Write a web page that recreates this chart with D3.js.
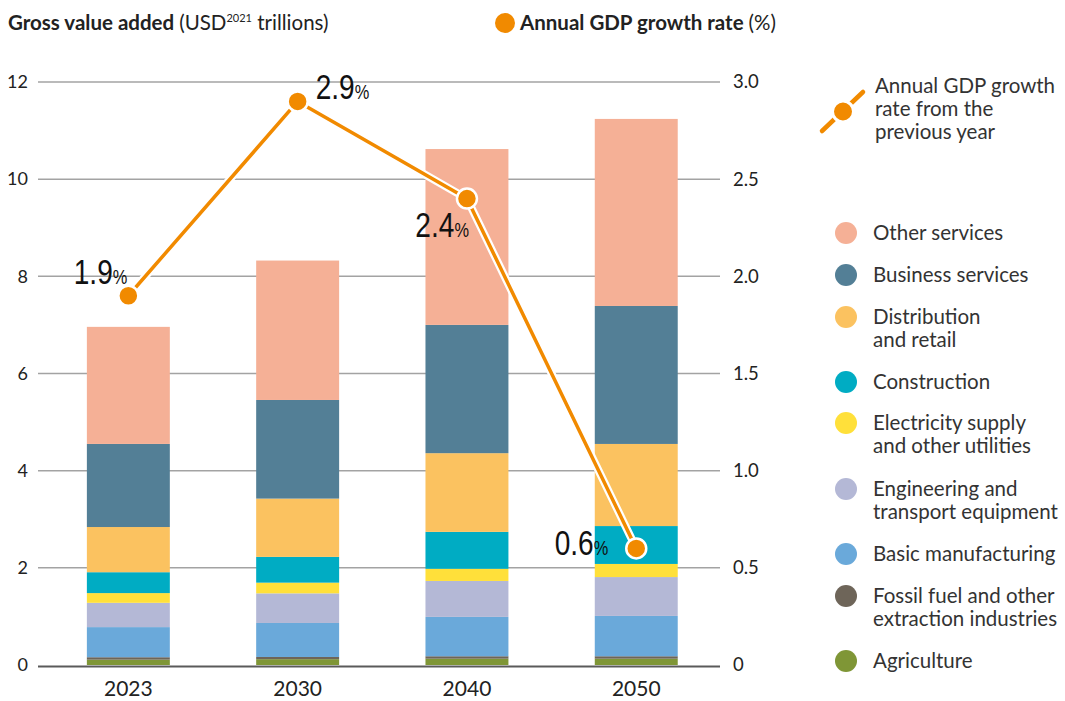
<!DOCTYPE html>
<html>
<head>
<meta charset="utf-8">
<script src="https://cdn.jsdelivr.net/npm/d3@7"></script>
<style>
  body { margin: 0; background: #fff; }
  svg { display: block; font-family: Lato, "Open Sans", sans-serif; }
</style>
</head>
<body>
<div id="chart"></div>
<script>
// data
const years = ["2023", "2030", "2040", "2050"];

// sectors from the bottom of the stack to the top
const sectors = [
  "Agriculture",
  "Fossil fuel and other extraction industries",
  "Basic manufacturing",
  "Engineering and transport equipment",
  "Electricity supply and other utilities",
  "Construction",
  "Distribution and retail",
  "Business services",
  "Other services"
];
const sectorColors = ["#7f9636", "#6e6559", "#6aa9da", "#b4b8d6", "#ffe03a", "#00acc3", "#fbc260", "#537f96", "#f5b096"];

const agriculture = [0.11, 0.12, 0.13, 0.13];
const fossil = [0.05, 0.045, 0.05, 0.05];
const basicManufacturing = [0.62, 0.70, 0.81, 0.83];
const engineering = [0.50, 0.61, 0.74, 0.80];
const electricity = [0.20, 0.22, 0.25, 0.27];
const construction = [0.43, 0.53, 0.76, 0.78];
const distribution = [0.93, 1.20, 1.62, 1.69];
const businessServices = [1.71, 2.03, 2.64, 2.84];
const otherServices = [2.41, 2.87, 3.62, 3.85];

const gdpGrowth = [1.9, 2.9, 2.4, 0.6];

const leftTicks = [0, 2, 4, 6, 8, 10, 12];
const rightTicks = [0, 0.5, 1.0, 1.5, 2.0, 2.5, 3.0];

// legend labels, split over lines as in the original
const legendLabels = [
  ["Agriculture"],
  ["Fossil fuel and other", "extraction industries"],
  ["Basic manufacturing"],
  ["Engineering and", "transport equipment"],
  ["Electricity supply", "and other utilities"],
  ["Construction"],
  ["Distribution", "and retail"],
  ["Business services"],
  ["Other services"]
];

const orange = "#f18a00";
const width = 1065, height = 701;

const svg = d3.select("#chart")
  .append("svg")
  .attr("width", width)
  .attr("height", height);

const seriesValues = [agriculture, fossil, basicManufacturing, engineering, electricity,
  construction, distribution, businessServices, otherServices];

const rows = years.map((yr, i) => {
  const row = { year: yr };
  sectors.forEach((s, j) => { row[s] = seriesValues[j][i]; });
  return row;
});

const stacked = d3.stack().keys(sectors)(rows);

const x = d3.scaleBand()
  .domain(years)
  .range([43.7, 720.9])
  .paddingInner(0.51)
  .paddingOuter(0.255);

const yL = d3.scaleLinear().domain([0, 12]).range([665, 82]);
const yR = d3.scaleLinear().domain([0, 3]).range([665, 82]);

// gridlines
svg.append("g")
  .selectAll("line")
  .data(leftTicks.filter(d => d > 0))
  .enter()
  .append("line")
  .attr("x1", 38)
  .attr("x2", 720)
  .attr("y1", d => yL(d))
  .attr("y2", d => yL(d))
  .style("stroke", "#a3a3a3")
  .style("stroke-width", 1.5);

// left axis labels
const leftAxis = svg.append("g")
  .attr("transform", "translate(38,0)")
  .call(d3.axisLeft(yL).tickValues(leftTicks).tickSize(0).tickPadding(10).tickFormat(d3.format("d")));
leftAxis.select(".domain").remove();
leftAxis.selectAll("text")
  .style("font-family", "Lato, sans-serif")
  .style("font-size", "18px")
  .style("fill", "#222");

// right axis labels
const rightAxis = svg.append("g")
  .attr("transform", "translate(720,0)")
  .call(d3.axisRight(yR).tickValues(rightTicks).tickSize(0).tickPadding(13)
    .tickFormat(d => d === 0 ? "0" : d3.format(".1f")(d)));
rightAxis.select(".domain").remove();
rightAxis.selectAll("text")
  .style("font-family", "Lato, sans-serif")
  .style("font-size", "18.5px")
  .style("fill", "#222");

// stacked bars
svg.append("g")
  .selectAll("g")
  .data(stacked)
  .enter()
  .append("g")
  .attr("fill", (d, i) => sectorColors[i])
  .selectAll("rect")
  .data(d => d)
  .enter()
  .append("rect")
  .attr("x", d => x(d.data.year))
  .attr("width", x.bandwidth())
  .attr("y", d => yL(d[1]))
  .attr("height", d => yL(d[0]) - yL(d[1]));

// baseline
svg.append("line")
  .attr("x1", 38)
  .attr("x2", 720)
  .attr("y1", yL(0) + 1.5)
  .attr("y2", yL(0) + 1.5)
  .style("stroke", "#5a5a5a")
  .style("stroke-width", 2);

// x labels
const xAxis = svg.append("g")
  .attr("transform", `translate(0,${yL(0)})`)
  .call(d3.axisBottom(x).tickSize(0).tickPadding(16));
xAxis.select(".domain").remove();
xAxis.selectAll("text")
  .style("font-family", "Lato, sans-serif")
  .style("font-size", "21px")
  .style("fill", "#222");

// GDP growth line
const gdpPoints = years.map((yr, i) => [x(yr) + x.bandwidth() / 2, yR(gdpGrowth[i])]);
const line = d3.line();

svg.append("path")
  .attr("d", line(gdpPoints))
  .attr("fill", "none")
  .style("stroke", "#fff")
  .style("stroke-width", 8)
  .style("stroke-linejoin", "round");

svg.append("path")
  .attr("d", line(gdpPoints))
  .attr("fill", "none")
  .style("stroke", orange)
  .style("stroke-width", 3.5)
  .style("stroke-linejoin", "round");

svg.append("g")
  .selectAll("circle")
  .data(gdpPoints)
  .enter()
  .append("circle")
  .attr("cx", d => d[0])
  .attr("cy", d => d[1])
  .attr("r", 10)
  .style("fill", orange)
  .style("stroke", "#fff")
  .style("stroke-width", 2.5);

// value labels: offsets relative to each point, text squeezed to look condensed
const labelOffsets = [
  { dx: -1, dy: -12, anchor: "end" },
  { dx: 18, dy: -2, anchor: "start" },
  { dx: 2, dy: 38, anchor: "end" },
  { dx: -28, dy: 7, anchor: "end" }
];

const labels = svg.append("g")
  .selectAll("text")
  .data(gdpPoints)
  .enter()
  .append("text")
  .attr("transform", (d, i) => `translate(${d[0] + labelOffsets[i].dx},${d[1] + labelOffsets[i].dy}) scale(0.78,1)`)
  .attr("text-anchor", (d, i) => labelOffsets[i].anchor)
  .style("font-family", "'Liberation Sans', Arial, sans-serif")
  .style("fill", "#111");

labels.append("tspan")
  .style("font-size", "36px")
  .text((d, i) => gdpGrowth[i].toFixed(1));
labels.append("tspan")
  .style("font-size", "21px")
  .text("%");

// top titles
const title = svg.append("text")
  .attr("x", 8)
  .attr("y", 30)
  .style("font-size", "20.5px")
  .style("fill", "#222");
title.append("tspan").style("font-weight", "bold").text("Gross value added ");
title.append("tspan").text("(USD");
title.append("tspan").style("font-size", "11px").attr("dy", -8).text("2021");
title.append("tspan").attr("dy", 8).text(" trillions)");

svg.append("circle")
  .attr("cx", 505)
  .attr("cy", 23)
  .attr("r", 10)
  .style("fill", orange);

const title2 = svg.append("text")
  .attr("x", 520)
  .attr("y", 30)
  .style("font-size", "20.5px")
  .style("fill", "#222");
title2.append("tspan").style("font-weight", "bold").text("Annual GDP growth rate ");
title2.append("tspan").text("(%)");

// line legend on the right
const lineLegend = svg.append("g");
lineLegend.append("line")
  .attr("x1", 822).attr("y1", 131)
  .attr("x2", 863).attr("y2", 92)
  .style("stroke", orange)
  .style("stroke-width", 4.5)
  .style("stroke-linecap", "round");
lineLegend.append("circle")
  .attr("cx", 843).attr("cy", 111.5).attr("r", 10.5)
  .style("fill", orange)
  .style("stroke", "#fff")
  .style("stroke-width", 3);
const lineLegendText = lineLegend.append("text")
  .attr("x", 875)
  .attr("y", 93)
  .style("font-size", "20.5px")
  .style("fill", "#333");
["Annual GDP growth", "rate from the", "previous year"].forEach((t, i) => {
  lineLegendText.append("tspan").attr("x", 875).attr("dy", i === 0 ? 0 : 23).text(t);
});

// sector legend, top item first
const legendY = [661, 596, 554, 489, 423, 382, 317, 275, 233];

const legend = svg.append("g")
  .selectAll("g")
  .data(sectors)
  .enter()
  .append("g")
  .attr("transform", (d, i) => `translate(846,${legendY[i]})`);

legend.append("circle")
  .attr("r", 11)
  .style("fill", (d, i) => sectorColors[i]);

legend.append("text")
  .attr("x", 27)
  .attr("y", 7)
  .style("font-size", "20.5px")
  .style("fill", "#333")
  .selectAll("tspan")
  .data((d, i) => legendLabels[i])
  .enter()
  .append("tspan")
  .attr("x", 27)
  .attr("dy", (d, i) => i === 0 ? 0 : 23)
  .text(d => d);
</script>
</body>
</html>
